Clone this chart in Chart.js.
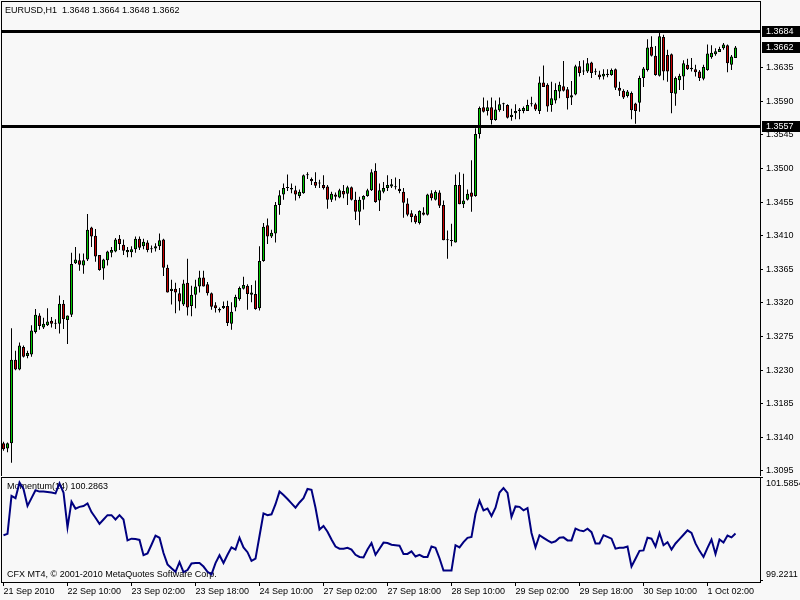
<!DOCTYPE html>
<html>
<head>
<meta charset="utf-8">
<title>EURUSD,H1</title>
<script src="https://cdn.jsdelivr.net/npm/chart.js@4.4.0/dist/chart.umd.min.js"></script>
<style>
  body { margin: 0; background: #f8f8f8; }
  #wrap { position: relative; width: 800px; height: 600px; }
  canvas { position: absolute; left: 0; }
  #main { top: 0; }
  #mom { top: 476px; }
</style>
</head>
<body>
<div id="wrap">
  <canvas id="main" width="800" height="476"></canvas>
  <canvas id="mom" width="800" height="124"></canvas>
</div>
<script>
// ===================== Data (EURUSD H1) =====================
const symbol = 'EURUSD,H1';

const opens = [
  1.3132, 1.3125, 1.3132, 1.3244, 1.3231, 1.3261, 1.3249, 1.3251, 1.3281, 1.3303,
  1.3287, 1.3290, 1.3296, 1.3292, 1.3292, 1.3319, 1.3297, 1.3304, 1.3373, 1.3377,
  1.3370, 1.3378, 1.3421, 1.3410, 1.3384, 1.3366, 1.3377, 1.3387, 1.3389, 1.3406,
  1.3398, 1.3388, 1.3388, 1.3392, 1.3406, 1.3396, 1.3401, 1.3392, 1.3393, 1.3396,
  1.3405, 1.3367, 1.3336, 1.3339, 1.3333, 1.3318, 1.3347, 1.3316, 1.3331, 1.3342,
  1.3354, 1.3345, 1.3333, 1.3317, 1.3312, 1.3313, 1.3316, 1.3292, 1.3314, 1.3325,
  1.3339, 1.3343, 1.3331, 1.3332, 1.3313, 1.3376, 1.3424, 1.3409, 1.3413, 1.3451,
  1.3465, 1.3474, 1.3474, 1.3471, 1.3463, 1.3467, 1.3491, 1.3486, 1.3482, 1.3480,
  1.3478, 1.3476, 1.3458, 1.3465, 1.3461, 1.3470, 1.3466, 1.3475, 1.3458, 1.3442,
  1.3458, 1.3463, 1.3471, 1.3497, 1.3457, 1.3469, 1.3474, 1.3476, 1.3475, 1.3473,
  1.3469, 1.3453, 1.3440, 1.3437, 1.3427, 1.3441, 1.3438, 1.3467, 1.3458, 1.3468,
  1.3451, 1.3404, 1.3404, 1.3401, 1.3478, 1.3452, 1.3458, 1.3468, 1.3463, 1.3546,
  1.3582, 1.3577, 1.3582, 1.3565, 1.3578, 1.3586, 1.3585, 1.3569, 1.3574, 1.3577,
  1.3577, 1.3577, 1.3586, 1.3586, 1.3577, 1.3615, 1.3612, 1.3585, 1.3591, 1.3603,
  1.3610, 1.3606, 1.3595, 1.3599, 1.3637, 1.3631, 1.3630, 1.3642, 1.3629, 1.3626,
  1.3623, 1.3625, 1.3625, 1.3633, 1.3608, 1.3604, 1.3597, 1.3601, 1.3587, 1.3588,
  1.3621, 1.3632, 1.3663, 1.3651, 1.3624, 1.3676, 1.3652, 1.3653, 1.3600, 1.3618,
  1.3623, 1.3639, 1.3635, 1.3633, 1.3630, 1.3620, 1.3632, 1.3649, 1.3653, 1.3656,
  1.3661, 1.3665, 1.3639, 1.3648
];
const highs = [
  1.3134, 1.3133, 1.3286, 1.3256, 1.3267, 1.3263, 1.3256, 1.3290, 1.3312, 1.3306,
  1.3300, 1.3313, 1.3301, 1.3298, 1.3330, 1.3324, 1.3303, 1.3387, 1.3395, 1.3386,
  1.3386, 1.3439, 1.3422, 1.3419, 1.3384, 1.3379, 1.3390, 1.3395, 1.3407, 1.3411,
  1.3405, 1.3395, 1.3396, 1.3409, 1.3409, 1.3406, 1.3404, 1.3397, 1.3400, 1.3413,
  1.3406, 1.3371, 1.3351, 1.3347, 1.3340, 1.3351, 1.3379, 1.3343, 1.3351, 1.3363,
  1.3363, 1.3348, 1.3334, 1.3321, 1.3314, 1.3322, 1.3323, 1.3321, 1.3331, 1.3342,
  1.3355, 1.3345, 1.3344, 1.3350, 1.3396, 1.3427, 1.3433, 1.3418, 1.3455, 1.3471,
  1.3480, 1.3492, 1.3480, 1.3477, 1.3472, 1.3492, 1.3495, 1.3488, 1.3495, 1.3485,
  1.3491, 1.3478, 1.3469, 1.3468, 1.3473, 1.3478, 1.3477, 1.3476, 1.3469, 1.3462,
  1.3464, 1.3473, 1.3499, 1.3507, 1.3480, 1.3482, 1.3491, 1.3486, 1.3488, 1.3486,
  1.3474, 1.3460, 1.3444, 1.3439, 1.3444, 1.3448, 1.3466, 1.3471, 1.3471, 1.3471,
  1.3457, 1.3417, 1.3426, 1.3492, 1.3495, 1.3493, 1.3472, 1.3511, 1.3554, 1.3583,
  1.3595, 1.3591, 1.3595, 1.3591, 1.3595, 1.3588, 1.3586, 1.3580, 1.3586, 1.3581,
  1.3583, 1.3592, 1.3596, 1.3588, 1.3623, 1.3638, 1.3614, 1.3616, 1.3614, 1.3616,
  1.3644, 1.3609, 1.3617, 1.3639, 1.3644, 1.3645, 1.3648, 1.3643, 1.3634, 1.3631,
  1.3633, 1.3633, 1.3634, 1.3634, 1.3616, 1.3606, 1.3605, 1.3603, 1.3588, 1.3624,
  1.3636, 1.3673, 1.3677, 1.3664, 1.3682, 1.3679, 1.3659, 1.3654, 1.3623, 1.3627,
  1.3645, 1.3647, 1.3648, 1.3639, 1.3632, 1.3639, 1.3666, 1.3665, 1.3661, 1.3663,
  1.3668, 1.3666, 1.3652, 1.3664
];
const lows = [
  1.3122, 1.3120, 1.3106, 1.3230, 1.3230, 1.3247, 1.3246, 1.3248, 1.3279, 1.3284,
  1.3285, 1.3289, 1.3287, 1.3285, 1.3279, 1.3285, 1.3265, 1.3301, 1.3372, 1.3363,
  1.3359, 1.3376, 1.3395, 1.3375, 1.3363, 1.3351, 1.3370, 1.3381, 1.3388, 1.3391,
  1.3384, 1.3381, 1.3381, 1.3387, 1.3391, 1.3392, 1.3388, 1.3387, 1.3389, 1.3391,
  1.3356, 1.3334, 1.3318, 1.3306, 1.3310, 1.3316, 1.3303, 1.3302, 1.3313, 1.3334,
  1.3342, 1.3330, 1.3311, 1.3307, 1.3307, 1.3312, 1.3289, 1.3284, 1.3309, 1.3323,
  1.3338, 1.3311, 1.3321, 1.3311, 1.3310, 1.3375, 1.3399, 1.3407, 1.3401, 1.3438,
  1.3458, 1.3470, 1.3467, 1.3457, 1.3460, 1.3466, 1.3486, 1.3478, 1.3474, 1.3474,
  1.3472, 1.3446, 1.3455, 1.3457, 1.3460, 1.3460, 1.3451, 1.3457, 1.3431, 1.3424,
  1.3445, 1.3462, 1.3470, 1.3454, 1.3443, 1.3467, 1.3470, 1.3474, 1.3472, 1.3467,
  1.3434, 1.3436, 1.3428, 1.3426, 1.3425, 1.3437, 1.3437, 1.3457, 1.3457, 1.3447,
  1.3404, 1.3379, 1.3396, 1.3401, 1.3452, 1.3447, 1.3457, 1.3442, 1.3462, 1.3540,
  1.3575, 1.3571, 1.3559, 1.3564, 1.3576, 1.3577, 1.3567, 1.3564, 1.3566, 1.3566,
  1.3574, 1.3577, 1.3583, 1.3577, 1.3573, 1.3609, 1.3576, 1.3576, 1.3587, 1.3594,
  1.3603, 1.3579, 1.3585, 1.3598, 1.3623, 1.3625, 1.3628, 1.3621, 1.3625, 1.3619,
  1.3619, 1.3622, 1.3624, 1.3605, 1.3597, 1.3593, 1.3595, 1.3566, 1.3560, 1.3576,
  1.3609, 1.3630, 1.3650, 1.3624, 1.3623, 1.3618, 1.3616, 1.3574, 1.3584, 1.3605,
  1.3605, 1.3632, 1.3630, 1.3623, 1.3617, 1.3618, 1.3631, 1.3647, 1.3651, 1.3656,
  1.3659, 1.3629, 1.3632, 1.3648
];
const closes = [
  1.3124, 1.3132, 1.3244, 1.3231, 1.3263, 1.3248, 1.3253, 1.3283, 1.3304, 1.3289,
  1.3292, 1.3295, 1.3292, 1.3292, 1.3319, 1.3298, 1.3303, 1.3372, 1.3378, 1.3371,
  1.3377, 1.3418, 1.3409, 1.3382, 1.3364, 1.3378, 1.3389, 1.3391, 1.3405, 1.3399,
  1.3390, 1.3391, 1.3392, 1.3406, 1.3394, 1.3402, 1.3391, 1.3392, 1.3396, 1.3404,
  1.3367, 1.3334, 1.3339, 1.3334, 1.3322, 1.3346, 1.3314, 1.3331, 1.3342, 1.3354,
  1.3342, 1.3333, 1.3315, 1.3313, 1.3310, 1.3316, 1.3293, 1.3308, 1.3328, 1.3340,
  1.3344, 1.3332, 1.3334, 1.3312, 1.3376, 1.3422, 1.3409, 1.3414, 1.3451, 1.3464,
  1.3474, 1.3474, 1.3472, 1.3465, 1.3469, 1.3491, 1.3491, 1.3483, 1.3477, 1.3480,
  1.3474, 1.3458, 1.3466, 1.3462, 1.3471, 1.3465, 1.3475, 1.3458, 1.3442, 1.3458,
  1.3463, 1.3471, 1.3495, 1.3455, 1.3471, 1.3474, 1.3478, 1.3479, 1.3475, 1.3470,
  1.3454, 1.3438, 1.3435, 1.3428, 1.3443, 1.3438, 1.3465, 1.3460, 1.3469, 1.3450,
  1.3404, 1.3404, 1.3403, 1.3478, 1.3452, 1.3457, 1.3466, 1.3462, 1.3546, 1.3581,
  1.3576, 1.3582, 1.3565, 1.3579, 1.3586, 1.3586, 1.3568, 1.3572, 1.3577, 1.3579,
  1.3581, 1.3585, 1.3586, 1.3579, 1.3615, 1.3609, 1.3583, 1.3594, 1.3605, 1.3612,
  1.3604, 1.3594, 1.3598, 1.3637, 1.3628, 1.3630, 1.3641, 1.3628, 1.3629, 1.3622,
  1.3627, 1.3627, 1.3632, 1.3608, 1.3604, 1.3595, 1.3603, 1.3578, 1.3577, 1.3621,
  1.3634, 1.3662, 1.3651, 1.3625, 1.3677, 1.3630, 1.3630, 1.3601, 1.3621, 1.3624,
  1.3641, 1.3633, 1.3633, 1.3629, 1.3621, 1.3636, 1.3654, 1.3655, 1.3657, 1.3660,
  1.3666, 1.3641, 1.3650, 1.3662
];
const momentum = [
  100.25, 100.28, 101.15, 101.10, 101.46, 101.31, 100.92, 101.10, 101.28, 101.25,
  101.25, 101.24, 101.23, 101.21, 101.44, 101.23, 100.43, 101.02, 100.86, 100.90,
  100.92, 100.98, 100.78, 100.65, 100.51, 100.61, 100.71, 100.71, 100.61, 100.71,
  100.61, 100.13, 100.17, 100.16, 100.14, 99.79, 99.83, 100.03, 100.24, 100.19,
  99.84, 99.58, 99.49, 99.41, 99.63, 99.40, 99.45, 99.60, 99.61, 99.61,
  99.53, 99.41, 99.35, 99.61, 99.79, 99.61, 99.80, 99.97, 99.92, 100.19,
  99.97, 99.86, 99.66, 99.71, 100.23, 100.75, 100.71, 100.73, 100.96, 101.25,
  101.17, 101.08, 100.98, 100.88, 101.00, 101.10, 101.31, 101.29, 100.88, 100.38,
  100.46, 100.33, 100.15, 99.99, 99.94, 99.94, 99.96, 99.92, 99.80, 99.75,
  99.74, 99.92, 100.07, 99.80, 99.94, 100.08, 100.07, 100.03, 100.02, 100.01,
  99.82, 99.82, 99.88, 99.76, 99.80, 99.75, 99.75, 99.99, 99.96, 99.72,
  99.44, 99.44, 99.44, 100.02, 99.97, 100.09, 100.19, 100.21, 100.74, 101.04,
  100.82, 100.86, 100.69, 100.88, 101.23, 101.33, 101.22, 100.67, 100.91, 100.90,
  100.82, 100.87, 100.30, 99.97, 100.25, 100.19, 100.13, 100.08, 100.11, 100.19,
  100.20, 100.13, 100.13, 100.40, 100.36, 100.34, 100.40, 100.32, 100.06, 100.06,
  100.25, 100.21, 100.17, 99.94, 99.96, 99.96, 99.99, 99.53, 99.71, 99.89,
  99.90, 100.19, 100.17, 99.99, 100.30, 100.02, 100.09, 99.92, 100.06, 100.16,
  100.26, 100.36, 100.30, 100.06, 99.89, 99.75, 99.96, 100.15, 99.82, 100.15,
  100.08, 100.24, 100.20, 100.2863
];

const timeLabels = ['21 Sep 2010', '22 Sep 10:00', '23 Sep 02:00', '23 Sep 18:00', '24 Sep 10:00', '27 Sep 02:00',
                    '27 Sep 18:00', '28 Sep 10:00', '29 Sep 02:00', '29 Sep 18:00', '30 Sep 10:00', '1 Oct 02:00'];
const priceTicks = [1.3095, 1.3140, 1.3185, 1.3230, 1.3275, 1.3320, 1.3365, 1.3410, 1.3455, 1.3500, 1.3545, 1.3590, 1.3635];
const levelLines = [1.3684, 1.3557];
const momTicks = [101.5854, 99.2211];

// ===================== Layout constants =====================
const BARS_PER_LABEL = 16;
const X_MIN = -0.625, X_MAX = 189.125;        // 4 px per bar, chart shift on the right
const Y_MIN = 1.308824, Y_MAX = 1.372425;
const MOM_MIN = 99.1752, MOM_MAX = 101.5854;  // small margin under the low label, like MT4
const AXIS_W = 40;
const UP = '#00c800', DOWN = '#c80000';
const FONT = '9px "Liberation Sans", Arial, sans-serif';

Chart.defaults.font.family = '"Liberation Sans", Arial, sans-serif';
Chart.defaults.font.size = 9;
Chart.defaults.color = '#000';

const last = closes.length - 1;
const idx = closes.map((_, i) => i);

// black frame round each panel
const frame = {
  id: 'frame',
  afterDraw(chart) {
    const {ctx, chartArea: a} = chart;
    const w = a.right - a.left + 1, h = a.bottom - a.top + 1;
    ctx.save();
    ctx.fillStyle = '#000';
    ctx.fillRect(a.left, a.top, w, 1);
    ctx.fillRect(a.left, a.bottom, w, 1);
    ctx.fillRect(a.left, a.top, 1, h);
    ctx.fillRect(a.right, a.top, 1, h);
    ctx.restore();
  }
};

function priceBox(ctx, y, text) {
  ctx.fillStyle = '#000';
  ctx.fillRect(762, Math.round(y) - 5, 38, 11);
  ctx.fillStyle = '#fff';
  ctx.fillText(text, 766, Math.round(y) + 0.5);
}

// horizontal lines, price boxes and the header text
const mainExtras = {
  id: 'mainExtras',
  afterDatasetsDraw(chart) {
    const {ctx, chartArea: a, scales: {y}} = chart;
    ctx.save();
    ctx.fillStyle = '#000';
    levelLines.forEach(v => {
      const py = Math.round(y.getPixelForValue(v));
      ctx.fillRect(a.left, py - 1, a.right - a.left, 3);
    });
    ctx.restore();
  },
  afterDraw(chart) {
    const {ctx, scales: {y}} = chart;
    ctx.save();
    ctx.font = FONT;
    ctx.textBaseline = 'middle';
    ctx.textAlign = 'left';
    levelLines.forEach(v => priceBox(ctx, y.getPixelForValue(v), v.toFixed(4)));
    priceBox(ctx, y.getPixelForValue(closes[last]), closes[last].toFixed(4));
    ctx.fillStyle = '#000';
    const head = symbol + '  ' + [opens[last], highs[last], lows[last], closes[last]].map(v => v.toFixed(4)).join(' ');
    ctx.fillText(head, 5, 11);
    ctx.restore();
  }
};

// ===================== Price chart =====================
new Chart(document.getElementById('main'), {
  type: 'bar',
  data: {
    datasets: [
      {
        label: 'body',
        data: idx.map(i => ({x: i, y: [opens[i], closes[i]]})),
        backgroundColor: idx.map(i => closes[i] >= opens[i] ? UP : DOWN),
        borderColor: '#000',
        borderWidth: 1,
        borderSkipped: false,
        barThickness: 3,
        minBarLength: 1,
        inflateAmount: 0,
        grouped: false,
        order: 0
      },
      {
        label: 'wick',
        data: idx.map(i => ({x: i, y: [lows[i], highs[i]]})),
        backgroundColor: '#000',
        borderWidth: 0,
        barThickness: 1,
        inflateAmount: 0,
        grouped: false,
        order: 1
      }
    ]
  },
  options: {
    responsive: false,
    animation: false,
    layout: { padding: { left: 1, top: 1, right: 0, bottom: 0 } },
    plugins: { legend: { display: false }, tooltip: { enabled: false } },
    scales: {
      x: { type: 'linear', min: X_MIN, max: X_MAX, display: false, offset: false },
      y: {
        position: 'right',
        min: Y_MIN,
        max: Y_MAX,
        afterBuildTicks: s => { s.ticks = priceTicks.map(v => ({value: v})); },
        afterFit: s => { s.width = AXIS_W; s.paddingTop = 0; s.paddingBottom = 0; },
        ticks: { callback: v => v.toFixed(4), autoSkip: false, padding: 3 },
        grid: { drawOnChartArea: false, tickLength: 3, color: '#000' },
        border: { display: false }
      }
    }
  },
  plugins: [frame, mainExtras]
});

// ===================== Momentum(14) =====================
const momExtras = {
  id: 'momExtras',
  beforeDatasetsDraw(chart) {
    const {ctx, chartArea: a} = chart;
    ctx.save();
    ctx.font = FONT;
    ctx.fillStyle = '#000';
    ctx.textBaseline = 'middle';
    ctx.fillText('Momentum(14) ' + momentum[last].toFixed(4), 7, a.top + 10);
    ctx.fillText('CFX MT4, \u00a9 2001-2010 MetaQuotes Software Corp.', 7, a.bottom - 7);
    ctx.restore();
  },
  afterDraw(chart) {
    const {ctx, chartArea: a} = chart;
    ctx.save();
    ctx.font = FONT;
    ctx.fillStyle = '#000';
    ctx.textBaseline = 'middle';
    ctx.fillText(momTicks[0].toFixed(4), 766, a.top + 7);
    ctx.fillText(momTicks[1].toFixed(4), 766, a.bottom - 7);
    ctx.restore();
  }
};

new Chart(document.getElementById('mom'), {
  type: 'line',
  data: {
    datasets: [{
      label: 'Momentum(14)',
      data: momentum.map((v, i) => ({x: i, y: v})),
      borderColor: '#000080',
      borderWidth: 2,
      pointRadius: 0,
      tension: 0,
      fill: false
    }]
  },
  options: {
    responsive: false,
    animation: false,
    layout: { padding: { left: 1, top: 1, right: 0, bottom: 0 } },
    plugins: { legend: { display: false }, tooltip: { enabled: false } },
    scales: {
      x: {
        type: 'linear',
        min: X_MIN,
        max: X_MAX,
        offset: false,
        afterBuildTicks: s => { s.ticks = timeLabels.map((_, k) => ({value: k * BARS_PER_LABEL})); },
        afterFit: s => { s.height = 18; s.paddingLeft = 0; s.paddingRight = 0; },
        ticks: {
          callback: v => timeLabels[Math.round(v / BARS_PER_LABEL)],
          align: 'start',
          maxRotation: 0,
          autoSkip: false,
          padding: 0
        },
        grid: { drawOnChartArea: false, offset: false, tickLength: 4, color: '#000' },
        border: { display: false }
      },
      y: {
        position: 'right',
        min: MOM_MIN,
        max: MOM_MAX,
        afterBuildTicks: s => { s.ticks = momTicks.map(v => ({value: v})); },
        afterFit: s => { s.width = AXIS_W; s.paddingTop = 0; s.paddingBottom = 0; },
        ticks: { display: false },
        grid: { drawOnChartArea: false, tickLength: 3, color: '#000' },
        border: { display: false }
      }
    }
  },
  plugins: [frame, momExtras]
});
</script>
</body>
</html>
